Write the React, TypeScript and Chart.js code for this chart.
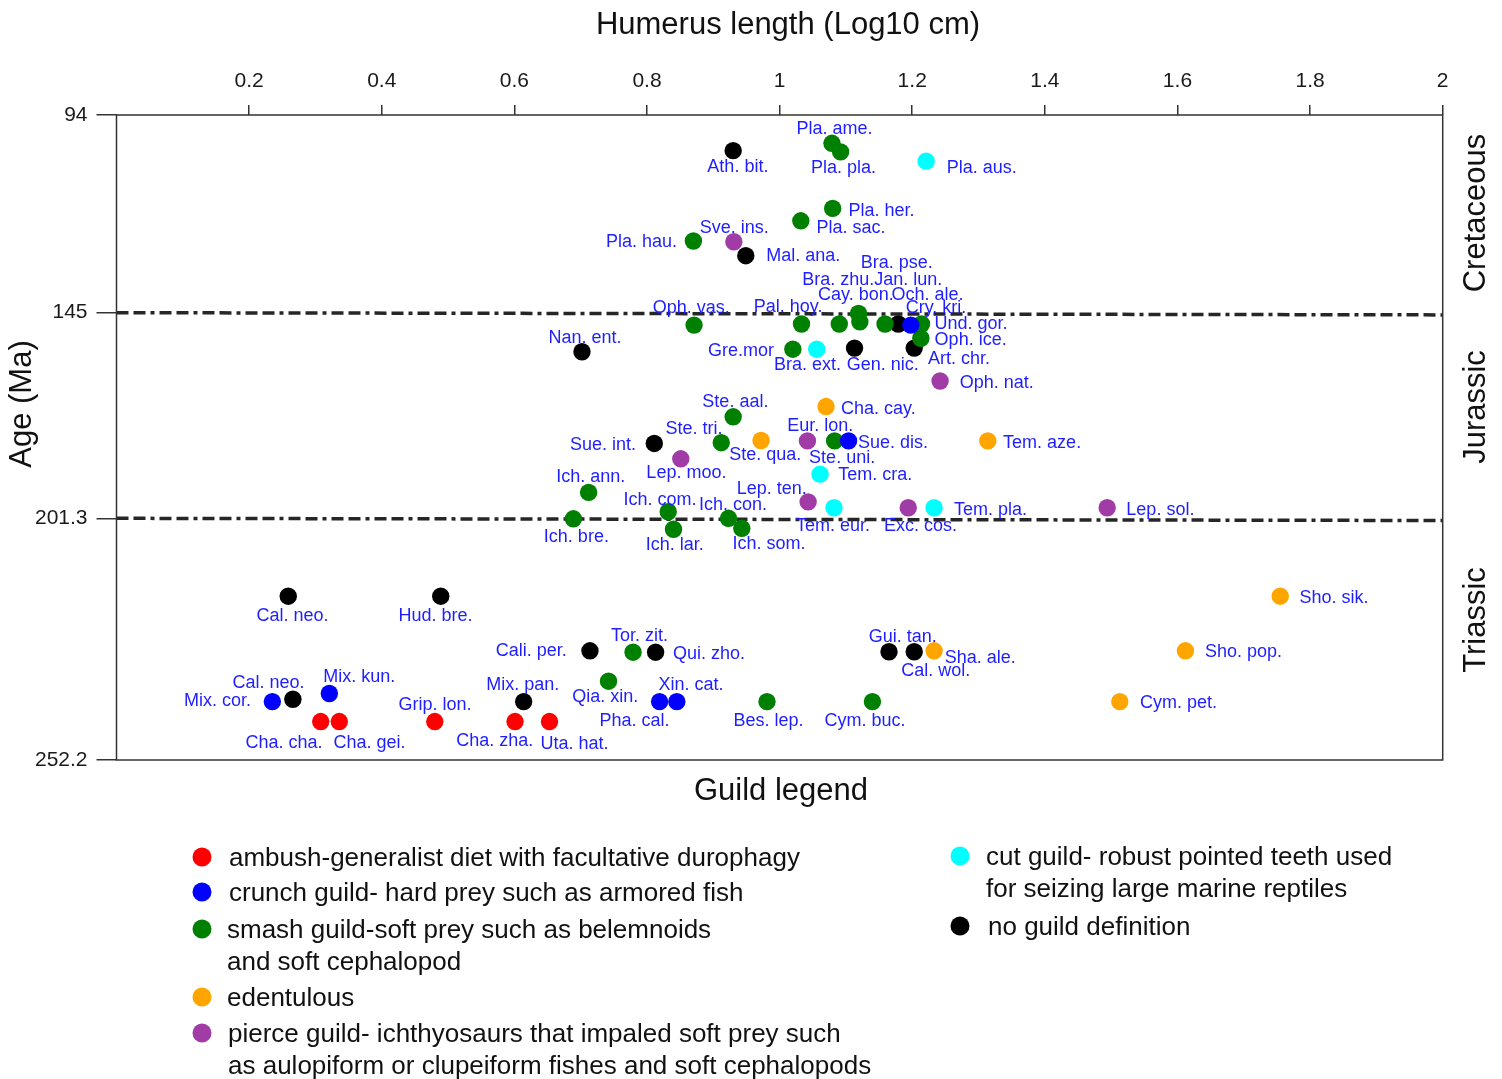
import React, { useEffect, useRef } from 'react';
import { Chart, LinearScale, registerables } from 'chart.js';

Chart.register(...registerables);

// ---------------- DATA ----------------
const xTicks = [0.2, 0.4, 0.6, 0.8, 1, 1.2, 1.4, 1.6, 1.8, 2];
const ageTicks = [94, 145, 201.3, 252.2];
const periodNames = ['Cretaceous', 'Jurassic', 'Triassic'];
const periodBoundaries = [145, 201.3];

const guildColors = ['#ff0000', '#0000ff', '#008000', '#ffa500', '#a13ba6', '#00ffff', '#000000'];
const guildLegendLines = [
  ['ambush-generalist diet with facultative durophagy'],
  ['crunch guild- hard prey such as armored fish'],
  ['smash guild-soft prey such as belemnoids', 'and soft cephalopod'],
  ['edentulous'],
  ['pierce guild- ichthyosaurs that impaled soft prey such', 'as aulopiform or clupeiform fishes and soft cephalopods'],
  ['cut guild- robust pointed teeth used', 'for seizing large marine reptiles'],
  ['no guild definition'],
];

// ambush-generalist (red)
const ambushNames = ['Cha. cha.', 'Cha. gei.', 'Grip. lon.', 'Cha. zha.', 'Uta. hat.'];
const ambushHumerus = [0.308, 0.336, 0.48, 0.601, 0.653];
const ambushAge = [244.1, 244.1, 244.1, 244.1, 244.1];

// crunch (blue)
const crunchNames = ['Mix. cor.', 'Mix. kun.', 'Pha. cal.', 'Xin. cat.', 'Sue. dis.', 'Cry. kri.'];
const crunchHumerus = [0.235, 0.321, 0.819, 0.845, 1.104, 1.198];
const crunchAge = [239.9, 238.2, 239.9, 239.9, 180.1, 148.4];

// smash (green)
const smashNames = ['Pla. ame.', 'Pla. pla.', 'Pla. her.', 'Pla. sac.', 'Pla. hau.', 'Oph. vas.', 'Pal. hoy.', 'Bra. zhu.', 'Bra. pse.', 'Cay. bon.', 'Jan. lun.', 'Und. gor.', 'Oph. ice.', 'Gre.mor', 'Ste. aal.', 'Ste. tri.', 'Ste. uni.', 'Ich. ann.', 'Ich. com.', 'Ich. bre.', 'Ich. lar.', 'Ich. con.', 'Ich. som.', 'Tor. zit.', 'Qia. xin.', 'Bes. lep.', 'Cym. buc.'];
const smashHumerus = [1.079, 1.092, 1.08, 1.032, 0.87, 0.871, 1.033, 1.09, 1.119, 1.121, 1.159, 1.214, 1.213, 1.02, 0.93, 0.912, 1.083, 0.712, 0.832, 0.689, 0.84, 0.923, 0.943, 0.779, 0.742, 0.981, 1.14];
const smashAge = [101.3, 103.5, 118.1, 121.3, 126.5, 148.4, 148.1, 148.1, 145.2, 147.5, 148.1, 148.1, 152.0, 155.0, 173.5, 180.6, 180.1, 194.2, 199.5, 201.4, 203.6, 201.3, 203.4, 229.5, 235.6, 239.9, 239.9];

// edentulous (orange)
const edentNames = ['Cha. cay.', 'Ste. qua.', 'Tem. aze.', 'Sha. ale.', 'Sho. sik.', 'Sho. pop.', 'Cym. pet.'];
const edentHumerus = [1.07, 0.972, 1.314, 1.233, 1.755, 1.612, 1.513];
const edentAge = [170.7, 180.0, 180.1, 229.2, 217.7, 229.2, 239.9];

// pierce (purple)
const pierceNames = ['Sve. ins.', 'Oph. nat.', 'Eur. lon.', 'Lep. moo.', 'Lep. ten.', 'Exc. cos.', 'Lep. sol.'];
const pierceHumerus = [0.931, 1.242, 1.042, 0.851, 1.043, 1.194, 1.494];
const pierceAge = [126.7, 163.7, 180.1, 185.0, 196.8, 198.4, 198.4];

// cut (cyan)
const cutNames = ['Pla. aus.', 'Bra. ext.', 'Tem. cra.', 'Tem. eur.', 'Tem. pla.'];
const cutHumerus = [1.221, 1.056, 1.061, 1.082, 1.233];
const cutAge = [105.9, 155.0, 189.2, 198.4, 198.4];

// no guild definition (black)
const noneNames = ['Ath. bit.', 'Mal. ana.', 'Och. ale.', 'Nan. ent.', 'Gen. nic.', 'Art. chr.', 'Sue. int.', 'Cal. neo.', 'Hud. bre.', 'Cal. neo.', 'Mix. pan.', 'Cali. per.', 'Qui. zho.', 'Gui. tan.', 'Cal. wol.'];
const noneHumerus = [0.93, 0.949, 1.179, 0.702, 1.113, 1.203, 0.811, 0.259, 0.489, 0.266, 0.614, 0.714, 0.813, 1.165, 1.203];
const noneAge = [103.2, 130.3, 148.1, 155.7, 154.7, 154.7, 180.8, 217.7, 217.7, 239.4, 239.9, 229.2, 229.5, 229.4, 229.4];

// ---------------- LAYOUT (label offsets in px from point centre) ----------------
const ambushLabelOffsets = [[-36.7, 20], [30.2, 20], [0.3, -18.4], [-20.3, 18.3], [24.9, 21]];
const crunchLabelOffsets = [[-54.8, -2.4], [29.9, -18.3], [-25, 17.6], [14.1, -18.4], [44.5, 0.7], [25.1, -18.3]];
const smashLabelOffsets = [[2.5, -15.6], [2.8, 14.3], [48.8, 1], [50.2, 6], [-51.8, 0], [-2.8, -18.5], [-13.4, -18], [-1, -45.7], [38.2, -51.6], [-4, -28], [23.3, -45.7], [49.5, -1.3], [49.8, 0], [-51.9, 0.7], [2.2, -16], [-27.3, -15], [7.5, 15.7], [2.2, -16.6], [-8.3, -13.4], [3, 16.7], [1.2, 14], [4.5, -14.3], [27.3, 14.7], [6.4, -18], [-3.3, 14], [1.6, 17.6], [-7.5, 17.6]];
const edentLabelOffsets = [[52.3, 0.6], [4.3, 12.6], [54.3, 0.7], [46.2, 6], [53.8, 0], [58.1, 0], [58.7, 0]];
const pierceLabelOffsets = [[0.5, -15], [56.7, 0.7], [12.7, -16], [5.6, 13], [-36.3, -14.7], [12.2, 17.3], [53.2, 0.6]];
const cutLabelOffsets = [[55.7, 5], [-9.2, 14.7], [55.3, -0.7], [-1, 17.3], [56.5, 1.3]];
const noneLabelOffsets = [[4.7, 15.3], [57.5, -0.7], [29.2, -30], [3, -15.7], [28.2, 15.7], [44.9, 9], [-51.3, -0.3], [4.2, 18], [-5.2, 18], [-24.3, -17.3], [-0.8, -18.4], [-58.7, -1], [53.5, 0], [13.8, -16.7], [21.5, 17.3]];

const guildNamesList = [ambushNames, crunchNames, smashNames, edentNames, pierceNames, cutNames, noneNames];
const guildX = [ambushHumerus, crunchHumerus, smashHumerus, edentHumerus, pierceHumerus, cutHumerus, noneHumerus];
const guildAge = [ambushAge, crunchAge, smashAge, edentAge, pierceAge, cutAge, noneAge];
const guildOffsets = [ambushLabelOffsets, crunchLabelOffsets, smashLabelOffsets, edentLabelOffsets, pierceLabelOffsets, cutLabelOffsets, noneLabelOffsets];

// fraction of plot height at which each age tick sits (the age axis is drawn piecewise)
const ageTickFractions = [0, 0.3065, 0.6253, 1];

const W = 1502;
const H = 1079;
const PLOT = { left: 116.5, top: 115, right: 1442.7, bottom: 760 };
const FONT = '"Liberation Sans", Arial, Helvetica, sans-serif';
const LABEL_BLUE = '#1e1eff';
const LABEL_SHIFT = 1.5;
const BOUNDARY_TILT = 2.2;
const periodLabelY = [213, 407, 620];
const legendDots = [[202, 857], [202, 892], [202, 929], [202, 997], [202, 1033], [960, 856], [960, 926]];
const legendTextX = [229, 229, 227, 227, 228, 986, 988];
const LEGEND_TEXT_SHIFT = 2;
const LEGEND_LINE = 31.5;

function ageToFraction(v: number): number {
  for (let i = 0; i < ageTicks.length - 1; i++) {
    const a = ageTicks[i], b = ageTicks[i + 1];
    if (v <= b || i === ageTicks.length - 2) {
      const t = (v - a) / (b - a);
      return ageTickFractions[i] + t * (ageTickFractions[i + 1] - ageTickFractions[i]);
    }
  }
  return 1;
}
function fractionToAge(f: number): number {
  for (let i = 0; i < ageTickFractions.length - 1; i++) {
    const a = ageTickFractions[i], b = ageTickFractions[i + 1];
    if (f <= b || i === ageTickFractions.length - 2) {
      const t = (f - a) / (b - a);
      return ageTicks[i] + t * (ageTicks[i + 1] - ageTicks[i]);
    }
  }
  return ageTicks[ageTicks.length - 1];
}

class PiecewiseAgeScale extends LinearScale {
  static id = 'piecewiseAge';
  static defaults = {};
  getPixelForValue(value: number) {
    const s: any = this;
    return s.top + ageToFraction(value) * (s.bottom - s.top);
  }
  getValueForPixel(pixel: number) {
    const s: any = this;
    return fractionToAge((pixel - s.top) / (s.bottom - s.top));
  }
}
Chart.register(PiecewiseAgeScale as any);

const overlayPlugin = {
  id: 'overlay',
  beforeDatasetsDraw(chart: any) {
    const { ctx, chartArea: a, scales } = chart;
    ctx.save();
    ctx.strokeStyle = '#262626';
    ctx.lineWidth = 3.5;
    ctx.setLineDash([12, 5, 12, 5, 4, 5]);
    periodBoundaries.forEach((b) => {
      const py = scales.y.getPixelForValue(b);
      ctx.beginPath();
      ctx.moveTo(a.left, py);
      ctx.lineTo(a.right, py + BOUNDARY_TILT);
      ctx.stroke();
    });
    ctx.restore();
  },
  afterDatasetsDraw(chart: any) {
    const { ctx } = chart;
    ctx.save();
    ctx.font = `18px ${FONT}`;
    ctx.fillStyle = LABEL_BLUE;
    ctx.textAlign = 'center';
    ctx.textBaseline = 'middle';
    chart.data.datasets.forEach((_ds: any, di: number) => {
      const meta = chart.getDatasetMeta(di);
      meta.data.forEach((pt: any, i: number) => {
        const off = guildOffsets[di][i];
        ctx.fillText(guildNamesList[di][i], pt.x + off[0], pt.y + off[1] + LABEL_SHIFT);
      });
    });
    ctx.restore();
  },
  afterDraw(chart: any) {
    const { ctx, chartArea: a } = chart;
    ctx.save();
    // frame
    ctx.strokeStyle = '#333';
    ctx.lineWidth = 1.5;
    ctx.strokeRect(a.left, a.top, a.right - a.left, a.bottom - a.top);

    // titles
    ctx.fillStyle = '#111';
    ctx.font = `31px ${FONT}`;
    ctx.textAlign = 'center';
    ctx.textBaseline = 'middle';
    ctx.fillText('Humerus length (Log10 cm)', 788, 25);
    ctx.fillText('Guild legend', 781, 791.5);
    ctx.save();
    ctx.translate(22, 404);
    ctx.rotate(-Math.PI / 2);
    ctx.fillText('Age (Ma)', 0, 0);
    ctx.restore();
    periodNames.forEach((p, i) => {
      ctx.save();
      ctx.translate(1476, periodLabelY[i]);
      ctx.rotate(-Math.PI / 2);
      ctx.fillText(p, 0, 0);
      ctx.restore();
    });

    // legend
    ctx.font = `26px ${FONT}`;
    ctx.textAlign = 'left';
    guildLegendLines.forEach((lines, i) => {
      const [dx, dy] = legendDots[i];
      ctx.fillStyle = guildColors[i];
      ctx.beginPath();
      ctx.arc(dx, dy, 9.5, 0, Math.PI * 2);
      ctx.fill();
      ctx.fillStyle = '#111';
      lines.forEach((line, j) => {
        ctx.fillText(line, legendTextX[i], dy + j * LEGEND_LINE + LEGEND_TEXT_SHIFT);
      });
    });
    ctx.restore();
  },
};

export default function App() {
  const ref = useRef<HTMLCanvasElement>(null);
  useEffect(() => {
    const datasets = guildColors.map((color, gi) => ({
      label: guildLegendLines[gi].join(' '),
      data: guildX[gi].map((x, i) => ({ x, y: guildAge[gi][i] })),
      backgroundColor: color,
      borderColor: color,
      borderWidth: 0,
      pointRadius: 8.7,
      pointHoverRadius: 8.7,
    }));
    const chart = new Chart(ref.current as HTMLCanvasElement, {
      type: 'scatter',
      data: { datasets },
      plugins: [overlayPlugin],
      options: {
        animation: false,
        responsive: false,
        devicePixelRatio: 1,
        events: [],
        layout: { padding: { left: 0, top: 0, right: W - PLOT.right, bottom: H - PLOT.bottom } },
        plugins: { legend: { display: false }, tooltip: { enabled: false } },
        scales: {
          x: {
            type: 'linear',
            position: 'top',
            min: 0,
            max: 2,
            afterBuildTicks: (s: any) => { s.ticks = xTicks.map((v) => ({ value: v })); },
            afterFit: (s: any) => { s.height = PLOT.top; },
            border: { display: false },
            grid: { drawOnChartArea: false, drawTicks: true, tickLength: 10, color: '#333', lineWidth: 1.5 },
            ticks: {
              autoSkip: false,
              maxRotation: 0,
              padding: 11,
              color: '#1a1a1a',
              font: { family: FONT, size: 21 },
              callback: (v: any) => String(Math.round(Number(v) * 10) / 10),
            },
          },
          y: {
            type: 'piecewiseAge' as any,
            position: 'left',
            min: ageTicks[0],
            max: ageTicks[ageTicks.length - 1],
            afterBuildTicks: (s: any) => { s.ticks = ageTicks.map((v) => ({ value: v })); },
            afterFit: (s: any) => { s.width = PLOT.left; },
            border: { display: false },
            grid: { drawOnChartArea: false, drawTicks: true, tickLength: 20, color: '#333', lineWidth: 1.5 },
            ticks: {
              autoSkip: false,
              padding: 9,
              color: '#1a1a1a',
              font: { family: FONT, size: 21 },
              callback: (v: any) => String(v),
            },
          },
        },
      } as any,
    });
    return () => chart.destroy();
  }, []);
  return (
    <div style={{ position: 'absolute', left: 0, top: 0, width: W, height: H, background: '#fff' }}>
      <canvas ref={ref} width={W} height={H} style={{ display: 'block', width: W, height: H }} />
    </div>
  );
}
